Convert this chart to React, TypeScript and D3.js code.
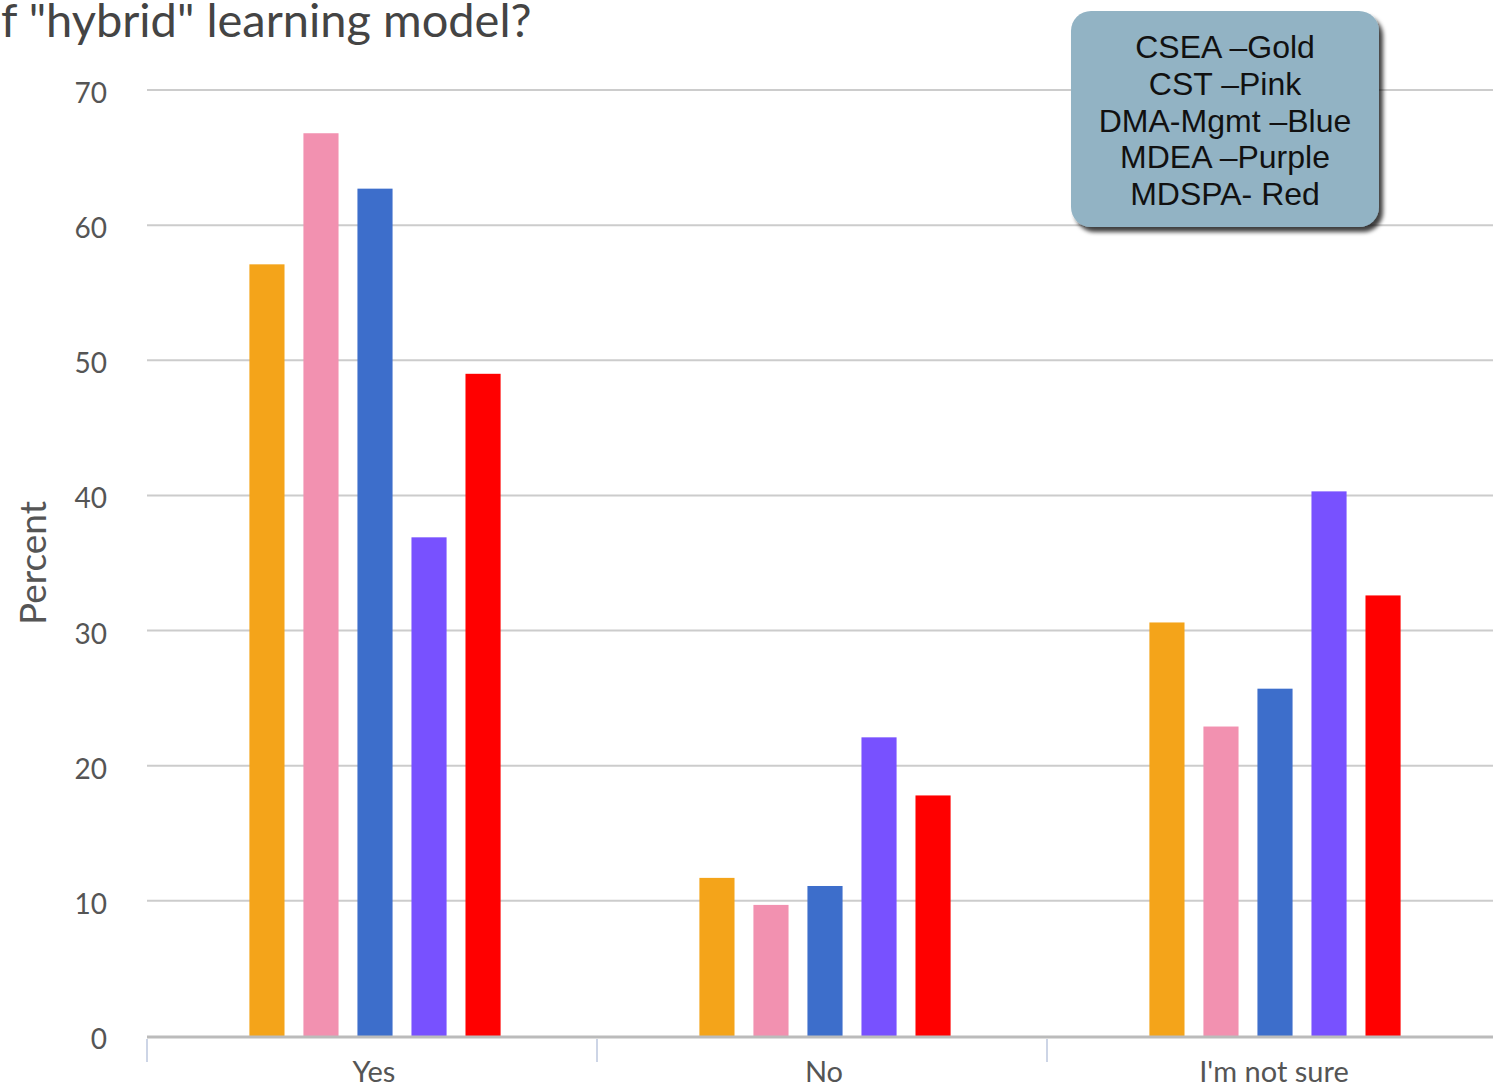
import React from "react";
import * as d3 from "d3";

const categories = ["Yes", "No", "I'm not sure"];
const seriesNames = ["CSEA", "CST", "DMA-Mgmt", "MDEA", "MDSPA"];
const seriesColors = ["#F4A41A", "#F291B0", "#3D6ECB", "#7851FF", "#FF0000"];
const csea = [57.1, 11.7, 30.6];
const cst = [66.8, 9.7, 22.9];
const dmaMgmt = [62.7, 11.1, 25.7];
const mdea = [36.9, 22.1, 40.3];
const mdspa = [49.0, 17.8, 32.6];
const yTicks = [0, 10, 20, 30, 40, 50, 60, 70];
const legendLines = ["CSEA \u2013Gold", "CST \u2013Pink", "DMA-Mgmt \u2013Blue", "MDEA \u2013Purple", "MDSPA- Red"];
const title = 'f "hybrid" learning model?';

const series = [csea, cst, dmaMgmt, mdea, mdspa];

export default function App() {
  const W = 1493, H = 1089;
  const left = 147, right = 1497, top = 90, bottom = 1036;
  const x = d3.scaleBand<string>().domain(categories).range([left, right]).paddingInner(0).paddingOuter(0);
  const x1 = d3.scaleBand<string>().domain(seriesNames).range([3, x.bandwidth() + 3]).paddingOuter(1.84).paddingInner(0.35);
  const y = d3.scaleLinear().domain([0, 70]).range([bottom, top]);
  const font = "Lato, 'Open Sans', sans-serif";
  return (
    <svg width={W} height={H} style={{ position: "absolute", left: 0, top: 0, background: "#fff" }}>
      <defs>
        <filter id="sh" x="-10%" y="-10%" width="130%" height="130%">
          <feDropShadow dx="4" dy="5" stdDeviation="2" floodColor="#000" floodOpacity="0.75" />
        </filter>
      </defs>
      <text x={1} y={37} fontFamily={font} fontSize={47} fill="#444">{title}</text>
      {yTicks.map((t) => (
        <g key={t}>
          {t !== 0 && <line x1={left} x2={W} y1={y(t)} y2={y(t)} stroke="#cccccc" strokeWidth={2} />}
          <text x={107} y={y(t) + 13} textAnchor="end" fontFamily={font} fontSize={28} fill="#555">{t}</text>
        </g>
      ))}
      <text transform={`translate(46,563) rotate(-90)`} textAnchor="middle" fontFamily={font} fontSize={37} fill="#555">Percent</text>
      {categories.map((c, ci) =>
        series.map((s, si) => (
          <rect key={c + si} x={(x(c) as number) + (x1(seriesNames[si]) as number)} width={x1.bandwidth()}
            y={y(s[ci])} height={bottom - y(s[ci])} fill={seriesColors[si]} />
        ))
      )}
      <line x1={left} x2={W} y1={bottom + 1} y2={bottom + 1} stroke="#bbbbbb" strokeWidth={3} />
      {categories.map((c) => (
        <line key={c} x1={x(c) as number} x2={x(c) as number} y1={bottom + 3} y2={bottom + 26} stroke="#cdd5e6" strokeWidth={2} />
      ))}
      {categories.map((c) => (
        <text key={c} x={(x(c) as number) + x.bandwidth() / 2 + 2} y={1082} textAnchor="middle" fontFamily={font} fontSize={29} fill="#555">{c}</text>
      ))}
      <rect x={1071} y={11} width={308} height={216} rx={20} ry={20} fill="#92B3C4" filter="url(#sh)" />
      {legendLines.map((l, i) => (
        <text key={l} x={1225} y={58 + i * 36.8} textAnchor="middle" fontFamily="'Liberation Sans', Arial, sans-serif" fontSize={32} fill="#111">{l}</text>
      ))}
    </svg>
  );
}
